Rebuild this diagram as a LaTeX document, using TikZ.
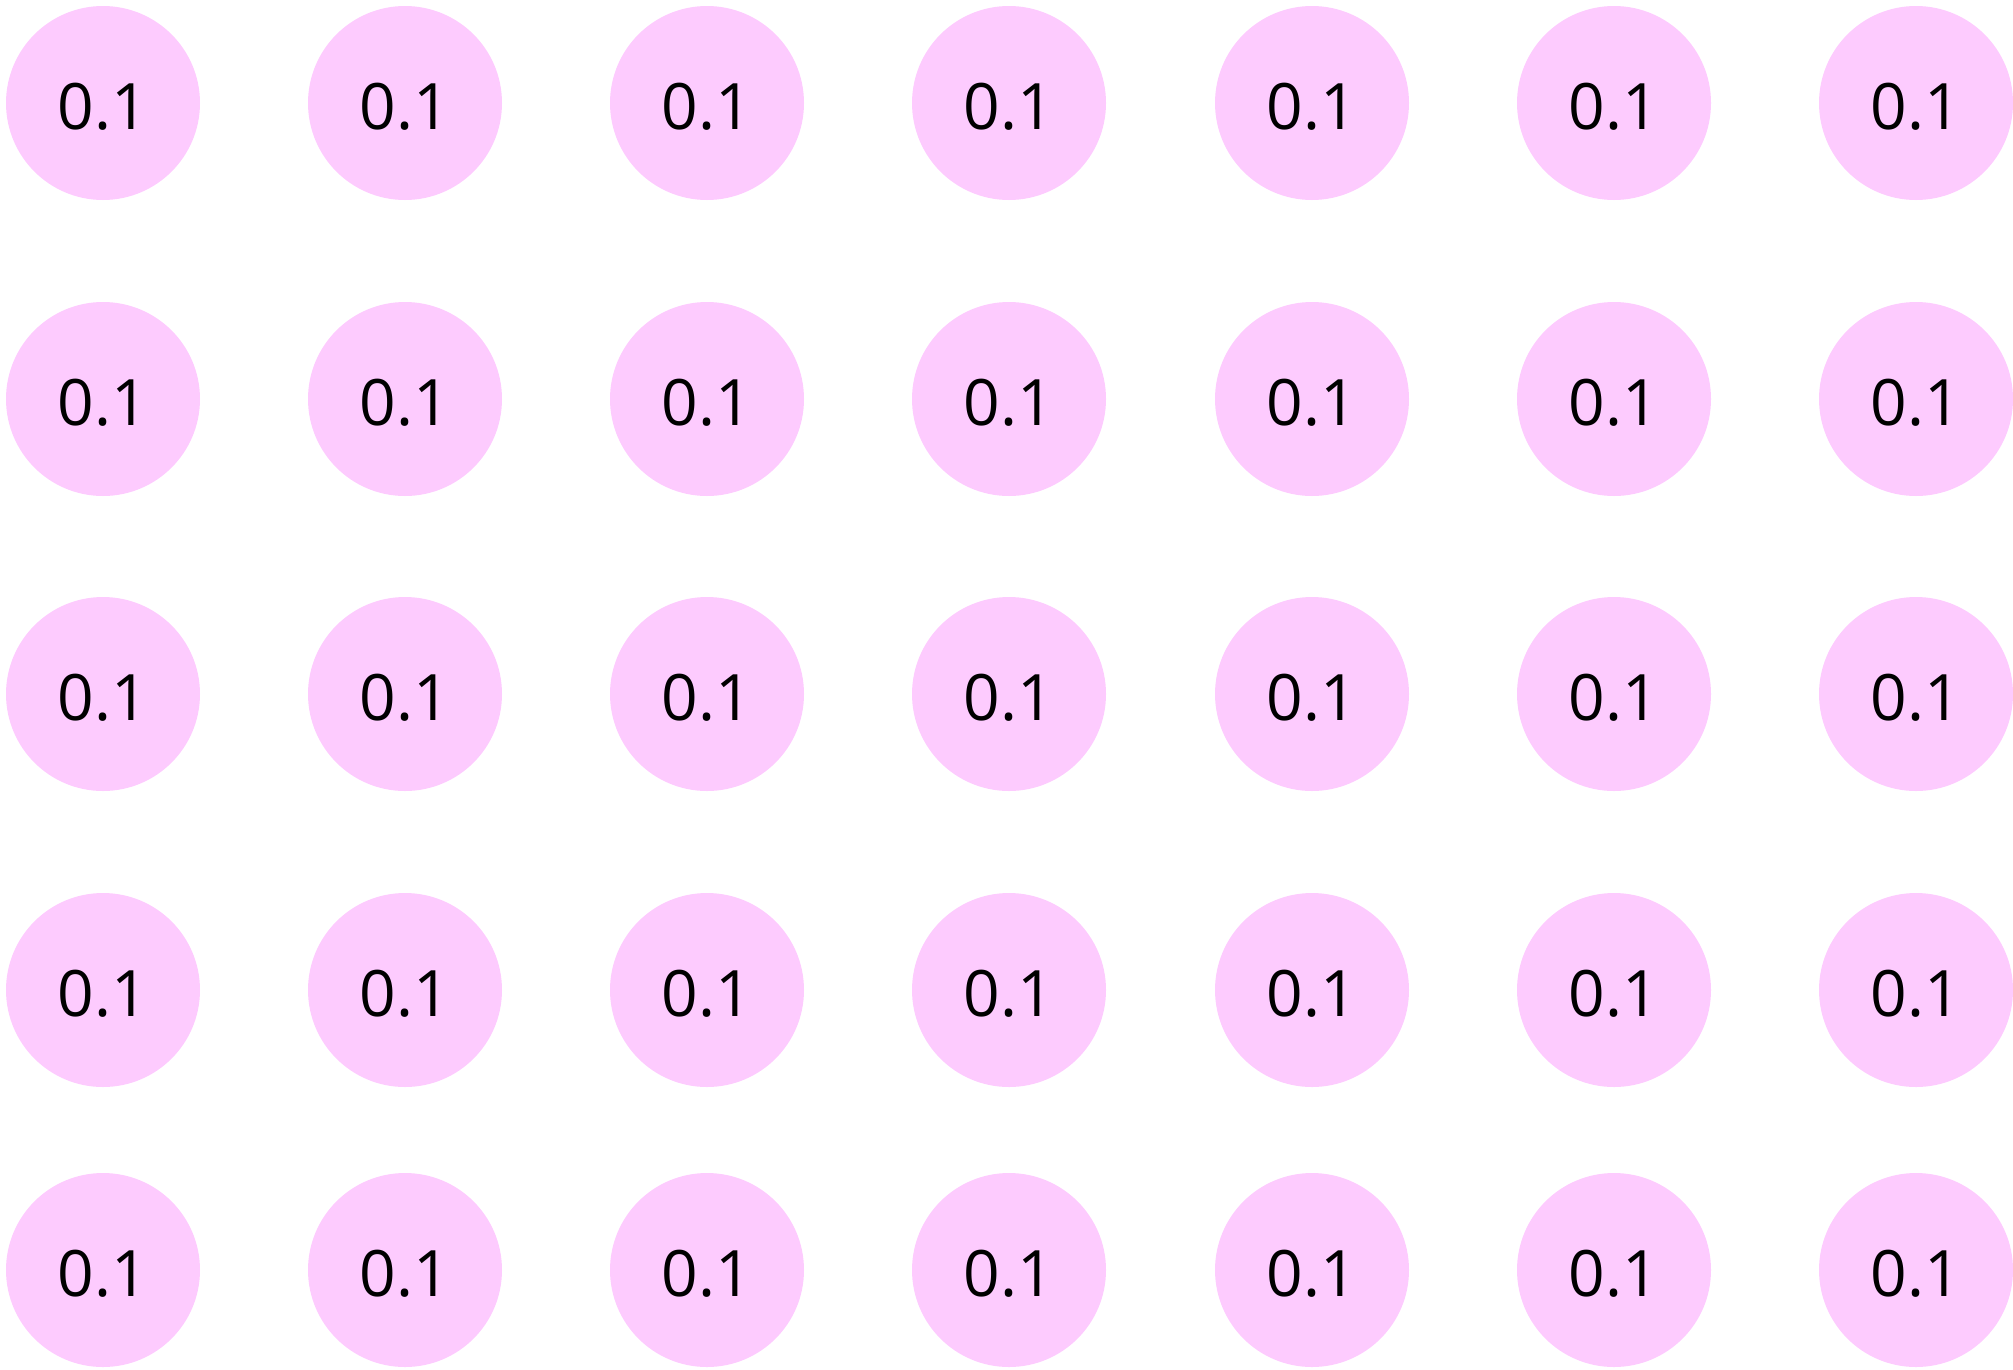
\documentclass[tikz,border=0pt]{standalone}
\usepackage{fontspec}
\setmainfont{Open Sans}
\definecolor{cellpink}{RGB}{253,203,254}
\tikzset{cell/.style={circle, fill=cellpink, minimum size=194pt, inner sep=0pt, text height=52pt, text depth=0pt, font=\fontsize{64}{72}\selectfont}}

\begin{document}
\begin{tikzpicture}[x=1pt,y=-1pt]
				\useasboundingbox (0,0) rectangle (2013,1369);
				\foreach \c/\x in {1/103,2/405,3/707,4/1009,5/1312,6/1614,7/1916}
				\foreach \r/\y in {1/103,2/399,3/694,4/990,5/1270}
				\node[cell] (c-\r-\c) at (\x,\y) {0.1};
			\end{tikzpicture}
\end{document}
